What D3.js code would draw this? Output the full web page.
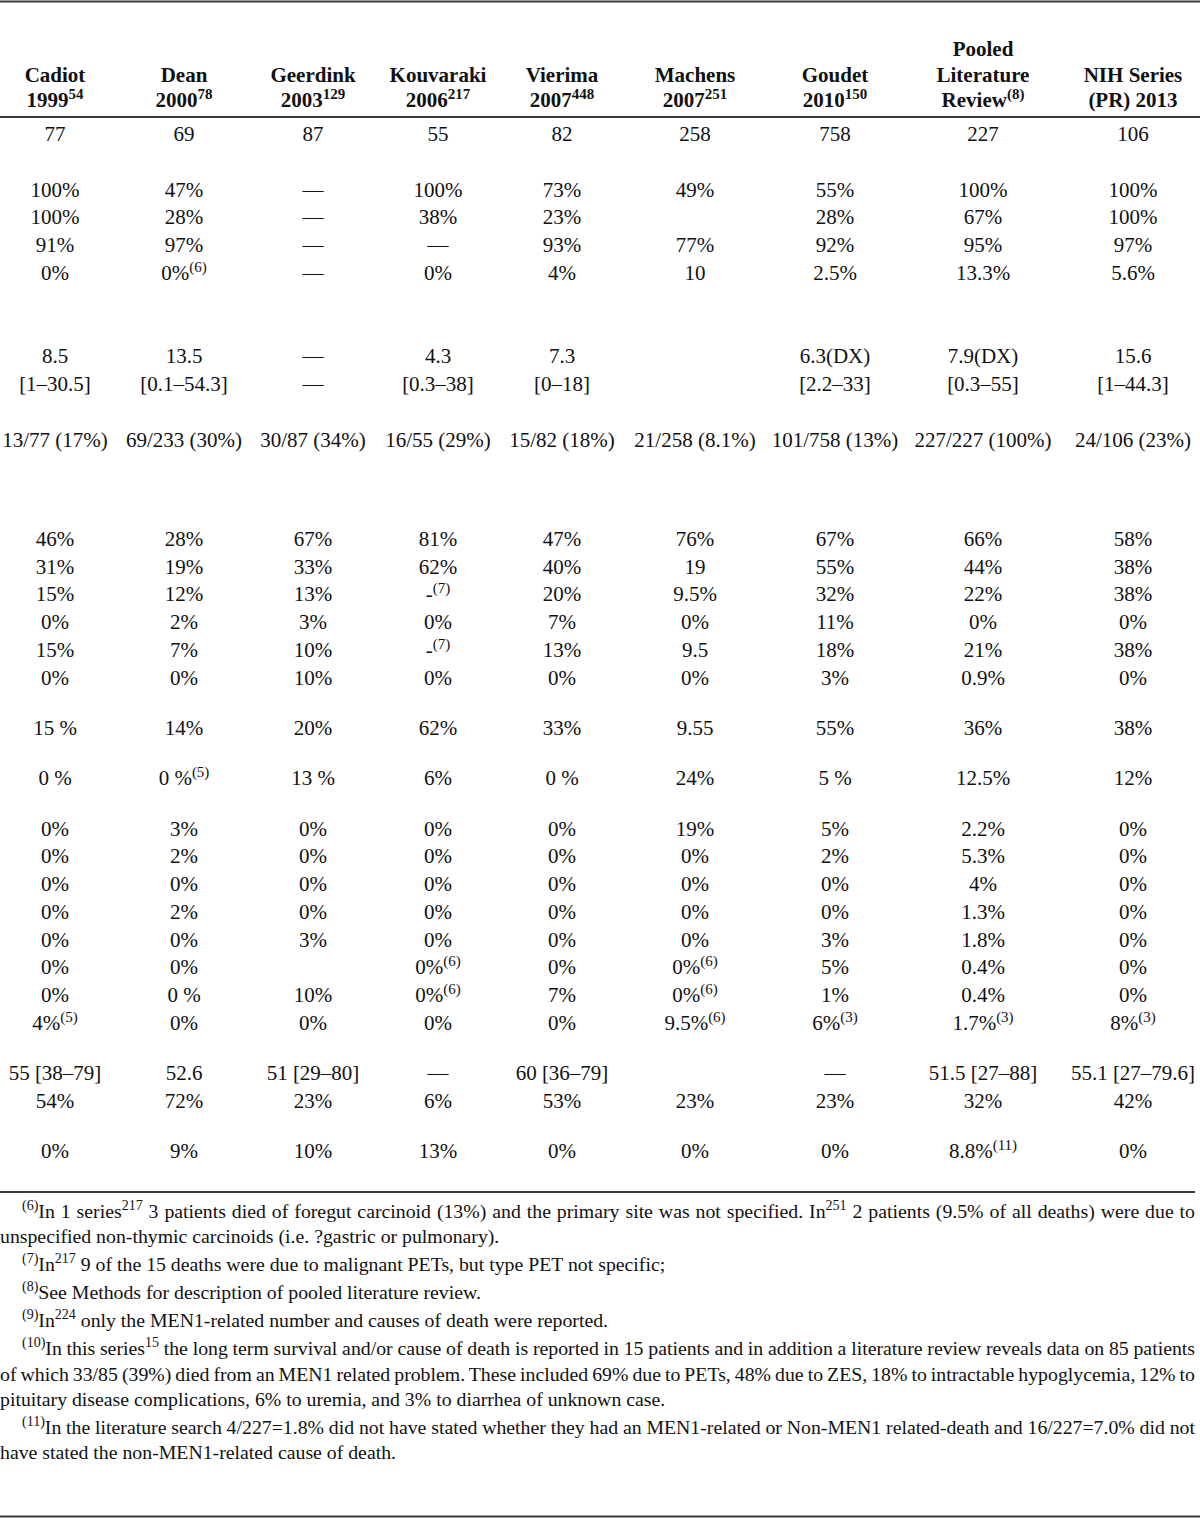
<!DOCTYPE html>
<html><head><meta charset="utf-8">
<script src="https://cdn.jsdelivr.net/npm/d3@7"></script>
<style>
body{margin:0;background:#fff}
svg{display:block}
text{font-family:"Liberation Serif","Times New Roman",serif;fill:#111}
</style>
</head><body>
<svg id="c" width="1200" height="1518"></svg>
<script>
// ---------- DATA ----------
const columns = ["Cadiot","Dean","Geerdink","Kouvaraki","Vierima","Machens","Goudet","Pooled","NIH"];
const headers = [
  ["Cadiot","1999{54}"],
  ["Dean","2000{78}"],
  ["Geerdink","2003{129}"],
  ["Kouvaraki","2006{217}"],
  ["Vierima","2007{448}"],
  ["Machens","2007{251}"],
  ["Goudet","2010{150}"],
  ["Pooled","Literature","Review{(8)}"],
  ["NIH Series","(PR) 2013"]
];
const r01 = ["77","69","87","55","82","258","758","227","106"];
const r02 = ["100%","47%","—","100%","73%","49%","55%","100%","100%"];
const r03 = ["100%","28%","—","38%","23%","","28%","67%","100%"];
const r04 = ["91%","97%","—","—","93%","77%","92%","95%","97%"];
const r05 = ["0%","0%{(6)}","—","0%","4%","10","2.5%","13.3%","5.6%"];
const r06 = ["8.5","13.5","—","4.3","7.3","","6.3(DX)","7.9(DX)","15.6"];
const r07 = ["[1–30.5]","[0.1–54.3]","—","[0.3–38]","[0–18]","","[2.2–33]","[0.3–55]","[1–44.3]"];
const r08 = ["13/77 (17%)","69/233 (30%)","30/87 (34%)","16/55 (29%)","15/82 (18%)","21/258 (8.1%)","101/758 (13%)","227/227 (100%)","24/106 (23%)"];
const r09 = ["46%","28%","67%","81%","47%","76%","67%","66%","58%"];
const r10 = ["31%","19%","33%","62%","40%","19","55%","44%","38%"];
const r11 = ["15%","12%","13%","-{(7)}","20%","9.5%","32%","22%","38%"];
const r12 = ["0%","2%","3%","0%","7%","0%","11%","0%","0%"];
const r13 = ["15%","7%","10%","-{(7)}","13%","9.5","18%","21%","38%"];
const r14 = ["0%","0%","10%","0%","0%","0%","3%","0.9%","0%"];
const r15 = ["15 %","14%","20%","62%","33%","9.55","55%","36%","38%"];
const r16 = ["0 %","0 %{(5)}","13 %","6%","0 %","24%","5 %","12.5%","12%"];
const r17 = ["0%","3%","0%","0%","0%","19%","5%","2.2%","0%"];
const r18 = ["0%","2%","0%","0%","0%","0%","2%","5.3%","0%"];
const r19 = ["0%","0%","0%","0%","0%","0%","0%","4%","0%"];
const r20 = ["0%","2%","0%","0%","0%","0%","0%","1.3%","0%"];
const r21 = ["0%","0%","3%","0%","0%","0%","3%","1.8%","0%"];
const r22 = ["0%","0%","","0%{(6)}","0%","0%{(6)}","5%","0.4%","0%"];
const r23 = ["0%","0 %","10%","0%{(6)}","7%","0%{(6)}","1%","0.4%","0%"];
const r24 = ["4%{(5)}","0%","0%","0%","0%","9.5%{(6)}","6%{(3)}","1.7%{(3)}","8%{(3)}"];
const r25 = ["55 [38–79]","52.6","51 [29–80]","—","60 [36–79]","","—","51.5 [27–88]","55.1 [27–79.6]"];
const r26 = ["54%","72%","23%","6%","53%","23%","23%","32%","42%"];
const r27 = ["0%","9%","10%","13%","0%","0%","0%","8.8%{(11)}","0%"];
const rows = [r01,r02,r03,r04,r05,r06,r07,r08,r09,r10,r11,r12,r13,r14,r15,r16,r17,r18,r19,r20,r21,r22,r23,r24,r25,r26,r27];

const footnotes = [
  ["{(6)}In 1 series{217} 3 patients died of foregut carcinoid (13%) and the primary site was not specified. In{251} 2 patients (9.5% of all deaths) were due to",
   "unspecified non-thymic carcinoids (i.e. ?gastric or pulmonary)."],
  ["{(7)}In{217} 9 of the 15 deaths were due to malignant PETs, but type PET not specific;"],
  ["{(8)}See Methods for description of pooled literature review."],
  ["{(9)}In{224} only the MEN1-related number and causes of death were reported."],
  ["{(10)}In this series{15} the long term survival and/or cause of death is reported in 15 patients and in addition a literature review reveals data on 85 patients",
   "of which 33/85 (39%) died from an MEN1 related problem. These included 69% due to PETs, 48% due to ZES, 18% to intractable hypoglycemia, 12% to",
   "pituitary disease complications, 6% to uremia, and 3% to diarrhea of unknown case."],
  ["{(11)}In the literature search 4/227=1.8% did not have stated whether they had an MEN1-related or Non-MEN1 related-death and 16/227=7.0% did not",
   "have stated the non-MEN1-related cause of death."]
];

// ---------- LAYOUT ----------
const W = 1200;
const colCenters = [55,184,313,438,562,695,835,983,1133];
const rowSlots = [0,2,3,4,5,8,9,11,14.57,15.57,16.57,17.57,18.57,19.57,21.37,23.2,25,26,27,28,29,30,31,32,33.8,34.8,36.6];
const footLineY = [1212,1237,1265,1293,1321,1349,1375,1400,1428,1453];

const svg = d3.select("#c");
const x = d3.scaleOrdinal().domain(columns).range(colCenters);
const y = d3.scaleLinear().domain([0,1]).range([134,161.78]);

function rich(sel, str, supSize, shift){
  const parts = str.split(/(\{[^}]*\})/).filter(s => s.length);
  let up = false;
  parts.forEach(p => {
    if (p[0] === "{") {
      sel.append("tspan").attr("font-size", supSize).attr("dy", -shift).text(p.slice(1,-1));
      up = true;
    } else {
      const t = sel.append("tspan").text(p);
      if (up) { t.attr("dy", shift); up = false; }
    }
  });
}

// rules
const rules = [{y:1.5,w:2.2},{y:117,w:2.2},{y:1192,w:1.8},{y:1516.5,w:2.2}];
svg.selectAll("line.rule").data(rules).join("line")
  .attr("class","rule")
  .attr("x1",0).attr("x2",(d,i)=> i===2 ? 1195 : W)
  .attr("y1",d=>d.y).attr("y2",d=>d.y)
  .attr("stroke","#3a3a3a").attr("stroke-width",d=>d.w);

// headers
const hg = svg.append("g");
headers.forEach((lines, ci) => {
  lines.forEach((ln, li) => {
    const t = hg.append("text")
      .attr("x", x(columns[ci]))
      .attr("y", 107 - 25.5*(lines.length-1-li))
      .attr("text-anchor","middle")
      .attr("font-size",21).attr("font-weight","bold");
    rich(t, ln, 15, 8);
  });
});

// body
const bg = svg.append("g");
rows.forEach((row, ri) => {
  row.forEach((val, ci) => {
    if (!val) return;
    const t = bg.append("text")
      .attr("x", x(columns[ci]))
      .attr("y", y(rowSlots[ri]) + 7)
      .attr("text-anchor","middle")
      .attr("font-size",21);
    rich(t, val, 15, 8);
  });
});

// footnotes
const fg = svg.append("g");
let li = 0;
footnotes.forEach(note => {
  note.forEach((ln, k) => {
    const x0 = k === 0 ? 22 : 0;
    const t = fg.append("text")
      .attr("x", x0)
      .attr("y", footLineY[li] + 6)
      .attr("font-size",19.8);
    rich(t, ln, 14, 8);
    const justify = k < note.length - 1;
    if (justify) {
      const nat = t.node().getComputedTextLength();
      const spaces = (ln.match(/ /g) || []).length;
      const ws = (1195 - x0 - nat) / spaces;
      t.attr("word-spacing", ws);
    }
    li++;
  });
});
</script>
</body></html>
